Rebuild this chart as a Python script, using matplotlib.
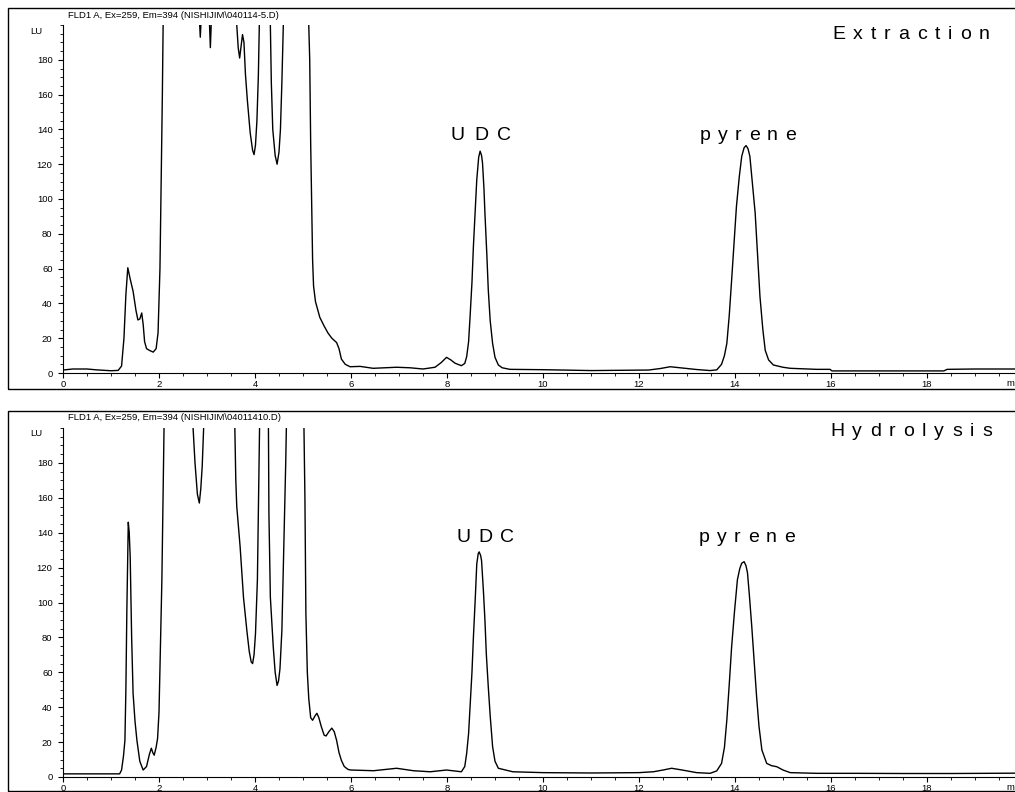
import matplotlib
matplotlib.use("Agg")
import matplotlib.pyplot as plt
from matplotlib.patches import Rectangle
from matplotlib.ticker import MultipleLocator, FixedLocator
from matplotlib.font_manager import FontProperties

plt.rcParams['font.family'] = ['Liberation Sans', 'DejaVu Sans']

# ---------------- data ----------------
ext_time = [0.0, 0.2, 0.5, 0.7, 1.0, 1.15, 1.22, 1.27, 1.31, 1.35, 1.40, 1.46, 1.52, 1.56,
            1.60, 1.64, 1.67, 1.70, 1.74, 1.80, 1.88, 1.94, 1.98, 2.02, 2.04, 2.07, 2.09,
            2.11, 2.80, 2.83, 2.86, 2.89, 2.92, 3.02, 3.04, 3.07, 3.10, 3.12, 3.58, 3.62,
            3.65, 3.68, 3.71, 3.74, 3.77, 3.80, 3.84, 3.90, 3.95, 3.98, 4.01, 4.04, 4.07,
            4.09, 4.11, 4.30, 4.32, 4.34, 4.37, 4.42, 4.46, 4.50, 4.53, 4.56, 4.59, 4.61,
            5.10, 5.12, 5.14, 5.16, 5.18, 5.20, 5.22, 5.26, 5.35, 5.44, 5.52, 5.60, 5.70,
            5.75, 5.80, 5.88, 5.98, 6.19, 6.46, 6.70, 6.95, 7.23, 7.50, 7.75, 7.88, 7.99,
            8.08, 8.17, 8.30, 8.37, 8.41, 8.45, 8.48, 8.52, 8.55, 8.59, 8.62, 8.66, 8.69,
            8.72, 8.74, 8.77, 8.79, 8.83, 8.86, 8.90, 8.95, 9.00, 9.07, 9.15, 9.31, 10.0,
            11.0, 11.8, 12.2, 12.45, 12.65, 12.85, 13.2, 13.48, 13.62, 13.72, 13.78, 13.83,
            13.88, 13.93, 13.98, 14.03, 14.09, 14.14, 14.19, 14.23, 14.27, 14.31, 14.36,
            14.42, 14.47, 14.52, 14.58, 14.63, 14.70, 14.80, 15.0, 15.15, 15.7, 15.98,
            16.02, 17.0, 18.0, 18.35, 18.42, 19.0, 19.9]
ext_lu = [1.7, 2.3, 2.3, 1.8, 1.3, 1.5, 4, 20, 45, 60.5, 54, 47, 36, 30.5,
          31, 34.5, 28, 18, 14, 13, 12, 14, 23, 60, 100, 160, 210,
          260, 260, 210, 193, 210, 260, 260, 210, 187, 210, 260, 260, 200,
          187, 181, 188, 194.5, 190, 172, 157, 138, 128, 125.5, 131, 145, 171,
          200, 260, 260, 200, 167, 140, 125, 120, 127, 140, 167, 200, 260,
          260, 200, 180, 132, 100, 65, 50, 41, 32, 27, 23, 20, 17.5,
          14, 8, 5, 3.6, 3.8, 2.7, 3.0, 3.3, 3.0, 2.3, 3.3, 6, 9,
          7.5, 5.6, 4.2, 5.5, 9.4, 18, 32, 52, 72.7, 94, 111, 124, 127.5,
          125, 120.7, 106, 92, 68, 47.8, 30, 17, 9, 4.6, 3, 2.1, 1.9,
          1.4, 1.6, 1.7, 2.6, 3.6, 3.0, 2.0, 1.4, 1.8, 5, 10, 17,
          33, 53.5, 75, 95.7, 113, 124.5, 129.5, 130.7, 129, 124.5, 110,
          92, 68, 44, 25, 13, 7.5, 4.6, 3.3, 2.7, 2.1, 2.1,
          1.2, 1.2, 1.2, 1.2, 2.1, 2.3, 2.3]

hyd_time = [0.0, 0.5, 1.0, 1.18, 1.22, 1.26, 1.29, 1.31, 1.33, 1.35, 1.36, 1.38, 1.40,
            1.43, 1.46, 1.50, 1.54, 1.60, 1.67, 1.74, 1.80, 1.84, 1.87, 1.90, 1.94, 1.97,
            2.00, 2.03, 2.06, 2.09, 2.11, 2.13, 2.68, 2.71, 2.75, 2.80, 2.84, 2.87, 2.90,
            2.93, 2.96, 3.55, 3.58, 3.60, 3.62, 3.69, 3.76, 3.83, 3.88, 3.92, 3.95, 3.98,
            4.01, 4.05, 4.08, 4.10, 4.12, 4.26, 4.28, 4.29, 4.32, 4.38, 4.42, 4.46, 4.49,
            4.52, 4.56, 4.60, 4.64, 4.66, 4.68, 5.00, 5.02, 5.04, 5.06, 5.09, 5.12, 5.16,
            5.20, 5.25, 5.29, 5.33, 5.38, 5.44, 5.48, 5.54, 5.60, 5.65, 5.70, 5.75, 5.80,
            5.86, 5.94, 6.0, 6.47, 6.95, 7.3, 7.65, 7.99, 8.3, 8.37, 8.41, 8.45, 8.48,
            8.52, 8.55, 8.59, 8.62, 8.65, 8.67, 8.70, 8.72, 8.76, 8.79, 8.82, 8.86, 8.90,
            8.95, 9.00, 9.07, 9.37, 10.0, 11.0, 12.0, 12.3, 12.5, 12.68, 12.9, 13.2,
            13.48, 13.62, 13.72, 13.78, 13.83, 13.88, 13.93, 13.99, 14.05, 14.10, 14.14,
            14.19, 14.23, 14.26, 14.30, 14.35, 14.40, 14.45, 14.50, 14.56, 14.66, 14.76,
            14.87, 15.0, 15.15, 15.7, 16.5, 17.5, 18.5, 19.9]
hyd_lu = [1.8, 1.8, 1.8, 1.8, 4, 12, 21, 50, 95, 130, 146, 140, 126,
          80, 48, 32, 21, 9, 4, 6, 13, 16.5, 14, 12.5, 17, 22,
          37, 75, 113, 170, 210, 260, 260, 200, 180, 162, 157, 165, 178,
          200, 260, 260, 200, 170, 155, 132, 103, 84, 72, 66, 65, 70,
          82, 113, 170, 210, 260, 260, 200, 151, 103, 74.7, 60, 52.5, 55,
          62, 84, 132, 180, 210, 260, 260, 200, 160, 94, 60, 45, 34,
          32.5, 35, 36.5, 34, 29, 24, 23.5, 26, 28, 26, 21, 14, 9.5,
          6, 4.3, 4, 3.6, 5, 3.6, 3, 4, 3, 6, 13.6, 25, 40,
          60, 80, 103, 122, 128, 129, 127, 124, 106, 90, 70, 51.7, 35,
          17.4, 9, 5, 3, 2.5, 2.3, 2.5, 3, 4, 5, 4, 2.5,
          2.1, 3.5, 7.8, 17, 32.7, 53, 74.7, 95, 113, 119.5, 122.5,
          123.4, 121, 117, 104, 86, 66, 46, 29, 15.5, 7.8, 6.5,
          5.9, 4, 2.5, 2.1, 2.1, 2.0, 2.0, 2.2]

x_ticks = [0, 2, 4, 6, 8, 10, 12, 14, 16, 18]
y_ticks = [0, 20, 40, 60, 80, 100, 120, 140, 160, 180]

titles = ["FLD1 A, Ex=259, Em=394 (NISHIJIM\\040114-5.D)",
          "FLD1 A, Ex=259, Em=394 (NISHIJIM\\04011410.D)"]
panel_names = ["Extraction", "Hydrolysis"]
peak_names = ["UDC", "pyrene"]

# ---------------- layout helpers (pixel coords, origin top-left) ----------------
W, H = 1015, 792
fig = plt.figure(figsize=(W / 100, H / 100), dpi=100)
renderer = fig.canvas.get_renderer()


def fx(px):
    return px / W


def fy(py):
    return 1 - py / H


def tracked_text(s, cx, baseline, width, size):
    """Draw letter-spaced text centred at cx with given total ink width (px)."""
    fp = FontProperties(family='Liberation Sans', size=size)
    widths = []
    for ch in s:
        w, h, d = renderer.get_text_width_height_descent(ch, fp, ismath=False)
        widths.append(w)
    gap = (width - sum(widths)) / (len(s) - 1)
    x = cx - width / 2
    for ch, w in zip(s, widths):
        fig.text(fx(x), fy(baseline), ch, fontproperties=fp, ha='left',
                 va='baseline', color='black')
        x += w + gap


X0_PX = 63
PX_PER_MIN = 48.0
XMAX = (W - X0_PX) / PX_PER_MIN

panels = [
    dict(t=ext_time, lu=ext_lu, ytop=25, yzero=373, box=(8, 389), title_y=15,
         lu_y=32, name_base=39, name_w=158, peak_base=140,
         peak_cx=[481, 748], peak_w=[60, 96]),
    dict(t=hyd_time, lu=hyd_lu, ytop=428, yzero=777, box=(411, 791), title_y=418,
         lu_y=434, name_base=436, name_w=162, peak_base=542,
         peak_cx=[485, 747], peak_w=[58, 96]),
]

for i, p in enumerate(panels):
    # outer frame
    b0, b1 = p['box']
    fig.patches.append(Rectangle((fx(8), fy(b1)), fx(1030) - fx(8), (b1 - b0) / H,
                                 transform=fig.transFigure, fill=False,
                                 edgecolor='black', linewidth=1.0))
    ax = fig.add_axes([fx(X0_PX), fy(p['yzero']), fx(W) - fx(X0_PX),
                       (p['yzero'] - p['ytop']) / H])
    ax.set_facecolor('none')
    ax.plot(p['t'], p['lu'], color='black', linewidth=1.0, solid_joinstyle='round')
    ax.set_xlim(0, XMAX)
    ax.set_ylim(0, 200)
    for side in ('top', 'right'):
        ax.spines[side].set_visible(False)
    for side in ('left', 'bottom'):
        ax.spines[side].set_linewidth(0.8)
    ax.xaxis.set_major_locator(FixedLocator(x_ticks))
    ax.xaxis.set_minor_locator(MultipleLocator(0.5))
    ax.yaxis.set_major_locator(FixedLocator(y_ticks))
    ax.yaxis.set_minor_locator(MultipleLocator(5))
    ax.tick_params(axis='both', which='major', direction='out', length=3.5,
                   width=0.8, labelsize=6.8)
    ax.tick_params(axis='both', which='minor', direction='out', length=2, width=0.6)
    ax.tick_params(axis='x', which='major', pad=1.5)
    ax.tick_params(axis='y', which='major', pad=4)

    fig.text(fx(68), fy(p['title_y']), titles[i], fontsize=6.8, ha='left', va='center')
    fig.text(fx(36), fy(p['lu_y']), "LU", fontsize=6.8, ha='center', va='center')
    fig.text(fx(1014), fy(p['yzero'] + 10), "m", fontsize=6.8, ha='right', va='center')

    tracked_text(panel_names[i], 911, p['name_base'], p['name_w'], 14)
    for name, cx, w in zip(peak_names, p['peak_cx'], p['peak_w']):
        tracked_text(name, cx, p['peak_base'], w, 14)

fig.savefig("out.png", dpi=100)
